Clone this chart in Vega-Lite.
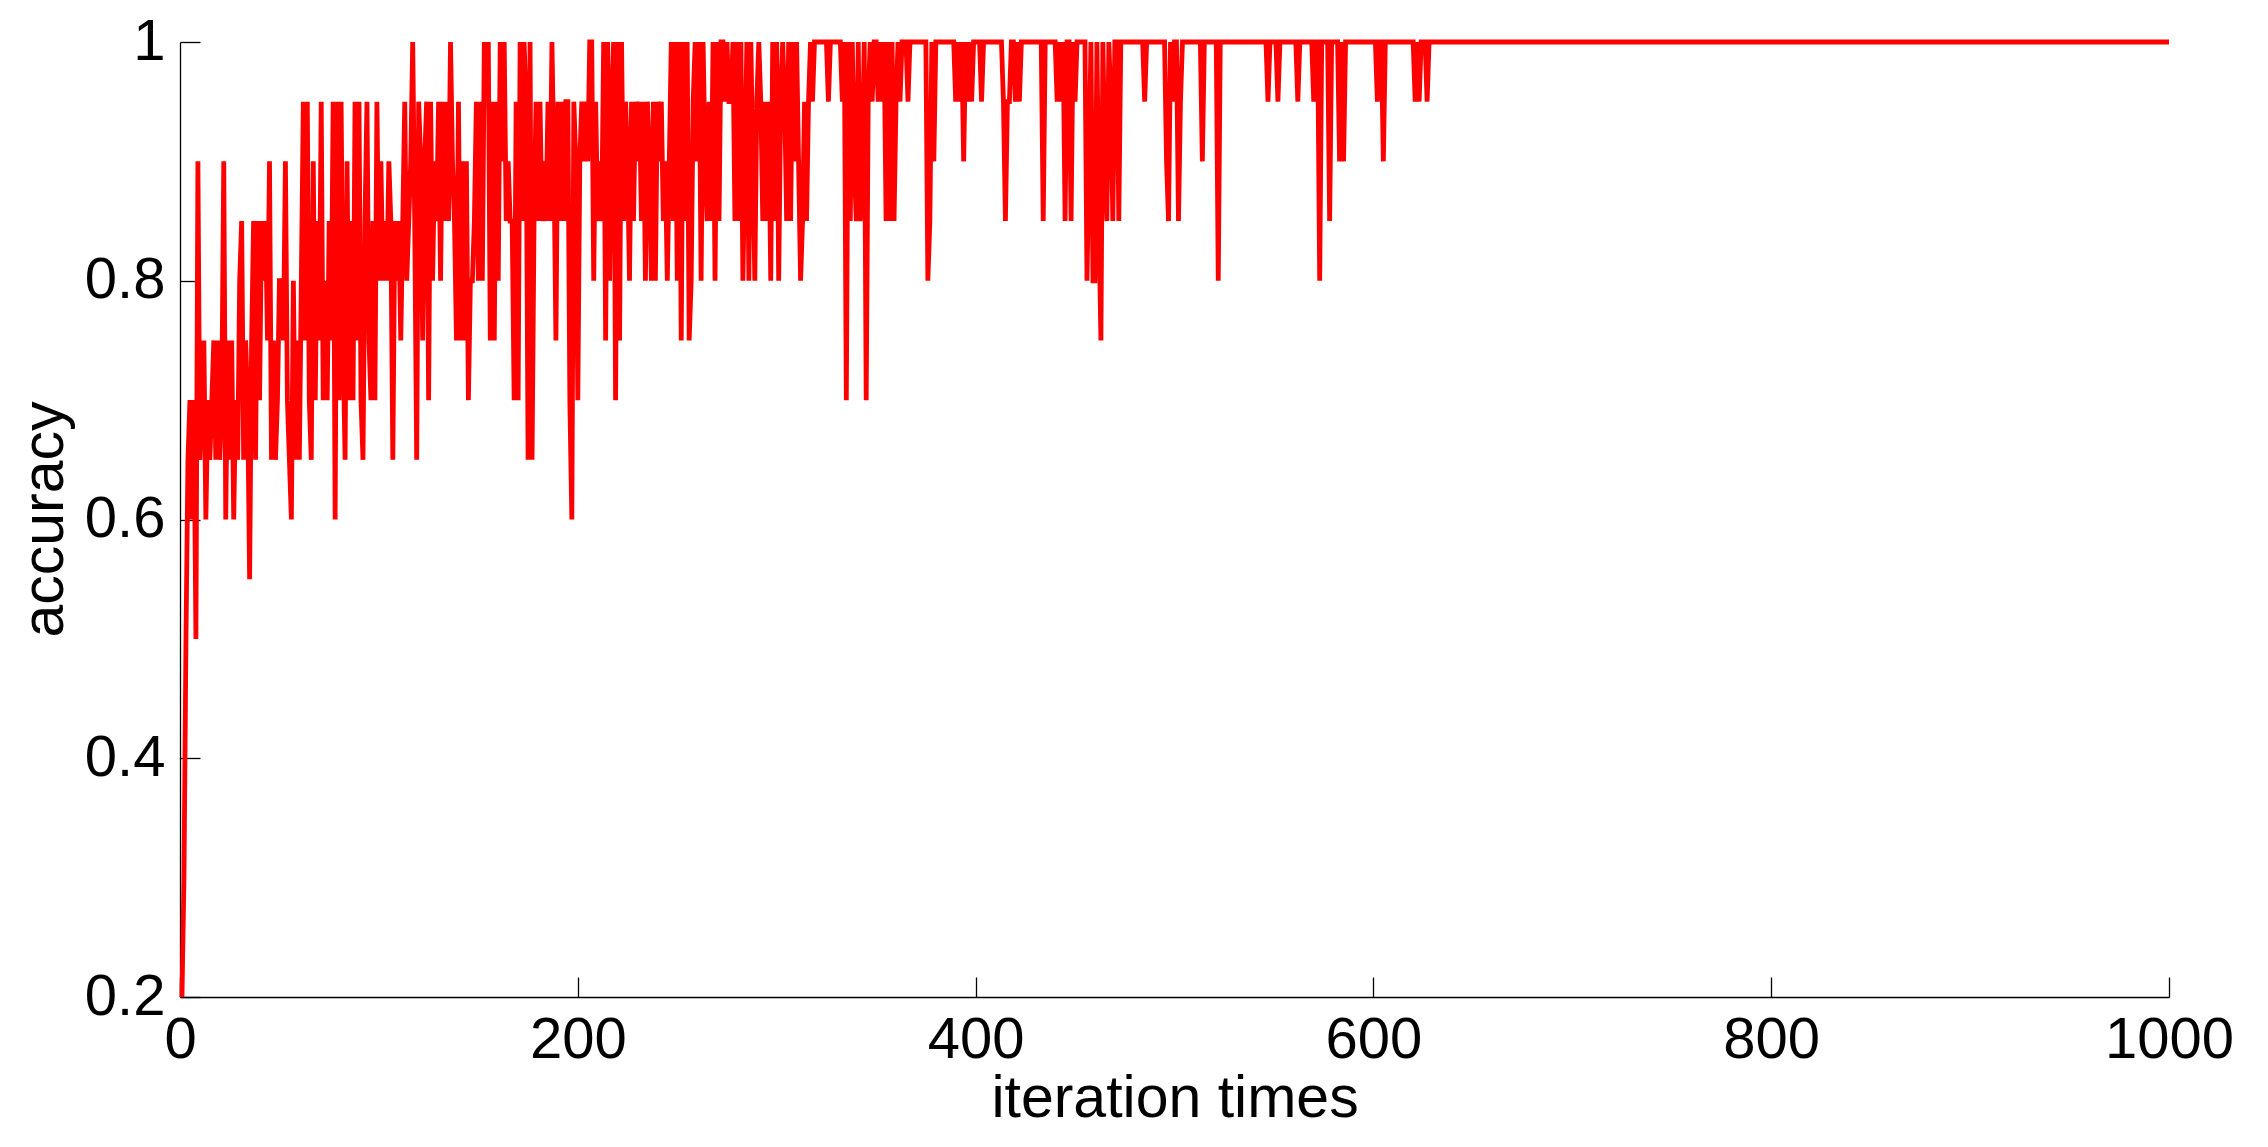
{
  "$schema": "https://vega.github.io/schema/vega-lite/v6.json",
  "width": 1989,
  "height": 955,
  "autosize": {"type": "none"},
  "padding": {"left": 180, "top": 42, "right": 99, "bottom": 150},
  "background": "white",
  "config": {"view": {"stroke": null}, "font": "Liberation Sans"},
  "data": {
    "values": [
      {"iteration": 1, "accuracy": 0.2}, {"iteration": 2, "accuracy": 0.3}, {"iteration": 3, "accuracy": 0.5}, {"iteration": 4, "accuracy": 0.65}, {"iteration": 5, "accuracy": 0.7},
      {"iteration": 6, "accuracy": 0.6}, {"iteration": 7, "accuracy": 0.7}, {"iteration": 8, "accuracy": 0.5}, {"iteration": 9, "accuracy": 0.9}, {"iteration": 10, "accuracy": 0.65},
      {"iteration": 11, "accuracy": 0.7}, {"iteration": 12, "accuracy": 0.75}, {"iteration": 13, "accuracy": 0.6}, {"iteration": 14, "accuracy": 0.7}, {"iteration": 15, "accuracy": 0.65},
      {"iteration": 16, "accuracy": 0.7}, {"iteration": 17, "accuracy": 0.75}, {"iteration": 18, "accuracy": 0.65}, {"iteration": 19, "accuracy": 0.75}, {"iteration": 20, "accuracy": 0.65},
      {"iteration": 21, "accuracy": 0.7}, {"iteration": 22, "accuracy": 0.9}, {"iteration": 23, "accuracy": 0.6}, {"iteration": 24, "accuracy": 0.75}, {"iteration": 25, "accuracy": 0.65},
      {"iteration": 26, "accuracy": 0.75}, {"iteration": 27, "accuracy": 0.6}, {"iteration": 28, "accuracy": 0.7}, {"iteration": 29, "accuracy": 0.65}, {"iteration": 30, "accuracy": 0.8},
      {"iteration": 31, "accuracy": 0.85}, {"iteration": 32, "accuracy": 0.65}, {"iteration": 33, "accuracy": 0.75}, {"iteration": 34, "accuracy": 0.7}, {"iteration": 35, "accuracy": 0.55},
      {"iteration": 36, "accuracy": 0.75}, {"iteration": 37, "accuracy": 0.85}, {"iteration": 38, "accuracy": 0.65}, {"iteration": 39, "accuracy": 0.85}, {"iteration": 40, "accuracy": 0.7},
      {"iteration": 41, "accuracy": 0.85}, {"iteration": 42, "accuracy": 0.8}, {"iteration": 43, "accuracy": 0.85}, {"iteration": 44, "accuracy": 0.75}, {"iteration": 45, "accuracy": 0.9},
      {"iteration": 46, "accuracy": 0.65}, {"iteration": 47, "accuracy": 0.75}, {"iteration": 48, "accuracy": 0.65}, {"iteration": 49, "accuracy": 0.7}, {"iteration": 50, "accuracy": 0.8},
      {"iteration": 51, "accuracy": 0.8}, {"iteration": 52, "accuracy": 0.75}, {"iteration": 53, "accuracy": 0.9}, {"iteration": 54, "accuracy": 0.7}, {"iteration": 55, "accuracy": 0.65},
      {"iteration": 56, "accuracy": 0.6}, {"iteration": 57, "accuracy": 0.8}, {"iteration": 58, "accuracy": 0.65}, {"iteration": 59, "accuracy": 0.75}, {"iteration": 60, "accuracy": 0.65},
      {"iteration": 61, "accuracy": 0.8}, {"iteration": 62, "accuracy": 0.95}, {"iteration": 63, "accuracy": 0.75}, {"iteration": 64, "accuracy": 0.95}, {"iteration": 65, "accuracy": 0.7},
      {"iteration": 66, "accuracy": 0.65}, {"iteration": 67, "accuracy": 0.9}, {"iteration": 68, "accuracy": 0.7}, {"iteration": 69, "accuracy": 0.85}, {"iteration": 70, "accuracy": 0.75},
      {"iteration": 71, "accuracy": 0.95}, {"iteration": 72, "accuracy": 0.7}, {"iteration": 73, "accuracy": 0.8}, {"iteration": 74, "accuracy": 0.7}, {"iteration": 75, "accuracy": 0.85},
      {"iteration": 76, "accuracy": 0.75}, {"iteration": 77, "accuracy": 0.95}, {"iteration": 78, "accuracy": 0.6}, {"iteration": 79, "accuracy": 0.95}, {"iteration": 80, "accuracy": 0.7},
      {"iteration": 81, "accuracy": 0.95}, {"iteration": 82, "accuracy": 0.75}, {"iteration": 83, "accuracy": 0.65}, {"iteration": 84, "accuracy": 0.9}, {"iteration": 85, "accuracy": 0.7},
      {"iteration": 86, "accuracy": 0.85}, {"iteration": 87, "accuracy": 0.7}, {"iteration": 88, "accuracy": 0.95}, {"iteration": 89, "accuracy": 0.75}, {"iteration": 90, "accuracy": 0.95},
      {"iteration": 91, "accuracy": 0.7}, {"iteration": 92, "accuracy": 0.65}, {"iteration": 93, "accuracy": 0.85}, {"iteration": 94, "accuracy": 0.95}, {"iteration": 95, "accuracy": 0.75},
      {"iteration": 96, "accuracy": 0.7}, {"iteration": 97, "accuracy": 0.85}, {"iteration": 98, "accuracy": 0.7}, {"iteration": 99, "accuracy": 0.95}, {"iteration": 100, "accuracy": 0.8},
      {"iteration": 101, "accuracy": 0.9}, {"iteration": 102, "accuracy": 0.8}, {"iteration": 103, "accuracy": 0.85}, {"iteration": 104, "accuracy": 0.8}, {"iteration": 105, "accuracy": 0.9},
      {"iteration": 106, "accuracy": 0.85}, {"iteration": 107, "accuracy": 0.65}, {"iteration": 108, "accuracy": 0.85}, {"iteration": 109, "accuracy": 0.8}, {"iteration": 110, "accuracy": 0.85},
      {"iteration": 111, "accuracy": 0.75}, {"iteration": 112, "accuracy": 0.85}, {"iteration": 113, "accuracy": 0.95}, {"iteration": 114, "accuracy": 0.8}, {"iteration": 115, "accuracy": 0.85},
      {"iteration": 116, "accuracy": 0.9}, {"iteration": 117, "accuracy": 1}, {"iteration": 118, "accuracy": 0.85}, {"iteration": 119, "accuracy": 0.65}, {"iteration": 120, "accuracy": 0.95},
      {"iteration": 121, "accuracy": 0.9}, {"iteration": 122, "accuracy": 0.75}, {"iteration": 123, "accuracy": 0.9}, {"iteration": 124, "accuracy": 0.95}, {"iteration": 125, "accuracy": 0.7},
      {"iteration": 126, "accuracy": 0.95}, {"iteration": 127, "accuracy": 0.8}, {"iteration": 128, "accuracy": 0.9}, {"iteration": 129, "accuracy": 0.85}, {"iteration": 130, "accuracy": 0.95},
      {"iteration": 131, "accuracy": 0.8}, {"iteration": 132, "accuracy": 0.95}, {"iteration": 133, "accuracy": 0.85}, {"iteration": 134, "accuracy": 0.95}, {"iteration": 135, "accuracy": 0.85},
      {"iteration": 136, "accuracy": 1}, {"iteration": 137, "accuracy": 0.9}, {"iteration": 138, "accuracy": 0.85}, {"iteration": 139, "accuracy": 0.75}, {"iteration": 140, "accuracy": 0.95},
      {"iteration": 141, "accuracy": 0.75}, {"iteration": 142, "accuracy": 0.9}, {"iteration": 143, "accuracy": 0.75}, {"iteration": 144, "accuracy": 0.9}, {"iteration": 145, "accuracy": 0.7},
      {"iteration": 146, "accuracy": 0.8}, {"iteration": 147, "accuracy": 0.8}, {"iteration": 148, "accuracy": 0.85}, {"iteration": 149, "accuracy": 0.95}, {"iteration": 150, "accuracy": 0.8},
      {"iteration": 151, "accuracy": 0.95}, {"iteration": 152, "accuracy": 0.8}, {"iteration": 153, "accuracy": 1}, {"iteration": 154, "accuracy": 0.95}, {"iteration": 155, "accuracy": 1},
      {"iteration": 156, "accuracy": 0.75}, {"iteration": 157, "accuracy": 0.95}, {"iteration": 158, "accuracy": 0.75}, {"iteration": 159, "accuracy": 0.95}, {"iteration": 160, "accuracy": 0.8},
      {"iteration": 161, "accuracy": 1}, {"iteration": 162, "accuracy": 0.9}, {"iteration": 163, "accuracy": 1}, {"iteration": 164, "accuracy": 0.85}, {"iteration": 165, "accuracy": 0.9},
      {"iteration": 166, "accuracy": 0.85}, {"iteration": 167, "accuracy": 0.85}, {"iteration": 168, "accuracy": 0.7}, {"iteration": 169, "accuracy": 0.95}, {"iteration": 170, "accuracy": 0.7},
      {"iteration": 171, "accuracy": 1}, {"iteration": 172, "accuracy": 0.85}, {"iteration": 173, "accuracy": 1}, {"iteration": 174, "accuracy": 0.95}, {"iteration": 175, "accuracy": 0.65},
      {"iteration": 176, "accuracy": 1}, {"iteration": 177, "accuracy": 0.65}, {"iteration": 178, "accuracy": 0.85}, {"iteration": 179, "accuracy": 0.95}, {"iteration": 180, "accuracy": 0.85},
      {"iteration": 181, "accuracy": 0.95}, {"iteration": 182, "accuracy": 0.85}, {"iteration": 183, "accuracy": 0.9}, {"iteration": 184, "accuracy": 0.85}, {"iteration": 185, "accuracy": 0.95},
      {"iteration": 186, "accuracy": 0.85}, {"iteration": 187, "accuracy": 1}, {"iteration": 188, "accuracy": 0.9}, {"iteration": 189, "accuracy": 0.75}, {"iteration": 190, "accuracy": 0.95},
      {"iteration": 191, "accuracy": 0.85}, {"iteration": 192, "accuracy": 0.95}, {"iteration": 193, "accuracy": 0.85}, {"iteration": 194, "accuracy": 0.95}, {"iteration": 195, "accuracy": 0.95},
      {"iteration": 196, "accuracy": 0.7}, {"iteration": 197, "accuracy": 0.6}, {"iteration": 198, "accuracy": 0.95}, {"iteration": 199, "accuracy": 0.9}, {"iteration": 200, "accuracy": 0.7},
      {"iteration": 201, "accuracy": 0.9}, {"iteration": 202, "accuracy": 0.95}, {"iteration": 203, "accuracy": 0.9}, {"iteration": 204, "accuracy": 0.95}, {"iteration": 205, "accuracy": 0.9},
      {"iteration": 206, "accuracy": 1}, {"iteration": 207, "accuracy": 1}, {"iteration": 208, "accuracy": 0.8}, {"iteration": 209, "accuracy": 0.95}, {"iteration": 210, "accuracy": 0.85},
      {"iteration": 211, "accuracy": 0.9}, {"iteration": 212, "accuracy": 0.85}, {"iteration": 213, "accuracy": 1}, {"iteration": 214, "accuracy": 0.75}, {"iteration": 215, "accuracy": 1},
      {"iteration": 216, "accuracy": 0.8}, {"iteration": 217, "accuracy": 0.95}, {"iteration": 218, "accuracy": 1}, {"iteration": 219, "accuracy": 0.7}, {"iteration": 220, "accuracy": 1},
      {"iteration": 221, "accuracy": 0.75}, {"iteration": 222, "accuracy": 1}, {"iteration": 223, "accuracy": 0.85}, {"iteration": 224, "accuracy": 0.95}, {"iteration": 225, "accuracy": 0.9},
      {"iteration": 226, "accuracy": 0.8}, {"iteration": 227, "accuracy": 0.95}, {"iteration": 228, "accuracy": 0.85}, {"iteration": 229, "accuracy": 0.95}, {"iteration": 230, "accuracy": 0.9},
      {"iteration": 231, "accuracy": 0.95}, {"iteration": 232, "accuracy": 0.85}, {"iteration": 233, "accuracy": 0.95}, {"iteration": 234, "accuracy": 0.8}, {"iteration": 235, "accuracy": 0.95},
      {"iteration": 236, "accuracy": 0.9}, {"iteration": 237, "accuracy": 0.8}, {"iteration": 238, "accuracy": 0.95}, {"iteration": 239, "accuracy": 0.8}, {"iteration": 240, "accuracy": 0.95},
      {"iteration": 241, "accuracy": 0.9}, {"iteration": 242, "accuracy": 0.95}, {"iteration": 243, "accuracy": 0.85}, {"iteration": 244, "accuracy": 0.9}, {"iteration": 245, "accuracy": 0.8},
      {"iteration": 246, "accuracy": 0.9}, {"iteration": 247, "accuracy": 1}, {"iteration": 248, "accuracy": 0.85}, {"iteration": 249, "accuracy": 1}, {"iteration": 250, "accuracy": 0.8},
      {"iteration": 251, "accuracy": 1}, {"iteration": 252, "accuracy": 0.75}, {"iteration": 253, "accuracy": 1}, {"iteration": 254, "accuracy": 0.85}, {"iteration": 255, "accuracy": 1},
      {"iteration": 256, "accuracy": 0.75}, {"iteration": 257, "accuracy": 0.8}, {"iteration": 258, "accuracy": 0.95}, {"iteration": 259, "accuracy": 1}, {"iteration": 260, "accuracy": 0.9},
      {"iteration": 261, "accuracy": 1}, {"iteration": 262, "accuracy": 0.8}, {"iteration": 263, "accuracy": 1}, {"iteration": 264, "accuracy": 0.9}, {"iteration": 265, "accuracy": 0.85},
      {"iteration": 266, "accuracy": 0.95}, {"iteration": 267, "accuracy": 0.85}, {"iteration": 268, "accuracy": 1}, {"iteration": 269, "accuracy": 0.8}, {"iteration": 270, "accuracy": 1},
      {"iteration": 271, "accuracy": 0.85}, {"iteration": 272, "accuracy": 1}, {"iteration": 273, "accuracy": 1}, {"iteration": 274, "accuracy": 0.95}, {"iteration": 275, "accuracy": 1},
      {"iteration": 276, "accuracy": 0.95}, {"iteration": 277, "accuracy": 0.95}, {"iteration": 278, "accuracy": 1}, {"iteration": 279, "accuracy": 0.85}, {"iteration": 280, "accuracy": 1},
      {"iteration": 281, "accuracy": 0.85}, {"iteration": 282, "accuracy": 1}, {"iteration": 283, "accuracy": 0.8}, {"iteration": 284, "accuracy": 0.9}, {"iteration": 285, "accuracy": 1},
      {"iteration": 286, "accuracy": 0.8}, {"iteration": 287, "accuracy": 1}, {"iteration": 288, "accuracy": 0.9}, {"iteration": 289, "accuracy": 0.8}, {"iteration": 290, "accuracy": 0.95},
      {"iteration": 291, "accuracy": 1}, {"iteration": 292, "accuracy": 0.95}, {"iteration": 293, "accuracy": 0.85}, {"iteration": 294, "accuracy": 0.95}, {"iteration": 295, "accuracy": 0.85},
      {"iteration": 296, "accuracy": 0.95}, {"iteration": 297, "accuracy": 0.8}, {"iteration": 298, "accuracy": 1}, {"iteration": 299, "accuracy": 0.85}, {"iteration": 300, "accuracy": 1},
      {"iteration": 301, "accuracy": 0.8}, {"iteration": 302, "accuracy": 0.95}, {"iteration": 303, "accuracy": 1}, {"iteration": 304, "accuracy": 0.95}, {"iteration": 305, "accuracy": 0.85},
      {"iteration": 306, "accuracy": 1}, {"iteration": 307, "accuracy": 0.85}, {"iteration": 308, "accuracy": 1}, {"iteration": 309, "accuracy": 0.9}, {"iteration": 310, "accuracy": 1},
      {"iteration": 311, "accuracy": 0.9}, {"iteration": 312, "accuracy": 0.8}, {"iteration": 313, "accuracy": 0.85}, {"iteration": 314, "accuracy": 0.95}, {"iteration": 315, "accuracy": 0.85},
      {"iteration": 316, "accuracy": 0.95}, {"iteration": 317, "accuracy": 1}, {"iteration": 318, "accuracy": 0.95}, {"iteration": 319, "accuracy": 1}, {"iteration": 325, "accuracy": 1},
      {"iteration": 326, "accuracy": 0.95}, {"iteration": 327, "accuracy": 1}, {"iteration": 332, "accuracy": 1}, {"iteration": 333, "accuracy": 0.95}, {"iteration": 334, "accuracy": 1},
      {"iteration": 335, "accuracy": 0.7}, {"iteration": 336, "accuracy": 1}, {"iteration": 337, "accuracy": 0.85}, {"iteration": 338, "accuracy": 1}, {"iteration": 339, "accuracy": 0.9},
      {"iteration": 340, "accuracy": 0.85}, {"iteration": 341, "accuracy": 1}, {"iteration": 342, "accuracy": 0.85}, {"iteration": 343, "accuracy": 0.9}, {"iteration": 344, "accuracy": 1},
      {"iteration": 345, "accuracy": 0.7}, {"iteration": 346, "accuracy": 0.95}, {"iteration": 347, "accuracy": 1}, {"iteration": 348, "accuracy": 0.95}, {"iteration": 349, "accuracy": 1},
      {"iteration": 350, "accuracy": 1}, {"iteration": 351, "accuracy": 0.95}, {"iteration": 352, "accuracy": 1}, {"iteration": 353, "accuracy": 0.95}, {"iteration": 354, "accuracy": 1},
      {"iteration": 355, "accuracy": 0.85}, {"iteration": 356, "accuracy": 1}, {"iteration": 357, "accuracy": 0.85}, {"iteration": 358, "accuracy": 1}, {"iteration": 359, "accuracy": 0.85},
      {"iteration": 360, "accuracy": 0.95}, {"iteration": 361, "accuracy": 1}, {"iteration": 362, "accuracy": 0.95}, {"iteration": 363, "accuracy": 1}, {"iteration": 365, "accuracy": 1},
      {"iteration": 366, "accuracy": 0.95}, {"iteration": 367, "accuracy": 1}, {"iteration": 375, "accuracy": 1}, {"iteration": 376, "accuracy": 0.8}, {"iteration": 377, "accuracy": 0.85},
      {"iteration": 378, "accuracy": 1}, {"iteration": 379, "accuracy": 0.9}, {"iteration": 380, "accuracy": 1}, {"iteration": 389, "accuracy": 1}, {"iteration": 390, "accuracy": 0.95},
      {"iteration": 391, "accuracy": 1}, {"iteration": 392, "accuracy": 0.95}, {"iteration": 393, "accuracy": 1}, {"iteration": 394, "accuracy": 0.9}, {"iteration": 395, "accuracy": 1},
      {"iteration": 396, "accuracy": 0.95}, {"iteration": 397, "accuracy": 1}, {"iteration": 398, "accuracy": 0.95}, {"iteration": 399, "accuracy": 1}, {"iteration": 402, "accuracy": 1},
      {"iteration": 403, "accuracy": 0.95}, {"iteration": 404, "accuracy": 1}, {"iteration": 413, "accuracy": 1}, {"iteration": 414, "accuracy": 0.95}, {"iteration": 415, "accuracy": 0.85},
      {"iteration": 416, "accuracy": 0.95}, {"iteration": 417, "accuracy": 0.95}, {"iteration": 418, "accuracy": 1}, {"iteration": 419, "accuracy": 1}, {"iteration": 420, "accuracy": 0.95},
      {"iteration": 421, "accuracy": 1}, {"iteration": 422, "accuracy": 0.95}, {"iteration": 423, "accuracy": 1}, {"iteration": 433, "accuracy": 1}, {"iteration": 434, "accuracy": 0.85},
      {"iteration": 435, "accuracy": 1}, {"iteration": 440, "accuracy": 1}, {"iteration": 441, "accuracy": 0.95}, {"iteration": 442, "accuracy": 1}, {"iteration": 443, "accuracy": 0.95},
      {"iteration": 444, "accuracy": 1}, {"iteration": 445, "accuracy": 0.85}, {"iteration": 446, "accuracy": 1}, {"iteration": 447, "accuracy": 1}, {"iteration": 448, "accuracy": 0.85},
      {"iteration": 449, "accuracy": 1}, {"iteration": 450, "accuracy": 0.95}, {"iteration": 451, "accuracy": 1}, {"iteration": 455, "accuracy": 1}, {"iteration": 456, "accuracy": 0.8},
      {"iteration": 457, "accuracy": 0.9}, {"iteration": 458, "accuracy": 1}, {"iteration": 459, "accuracy": 0.8}, {"iteration": 460, "accuracy": 0.8}, {"iteration": 461, "accuracy": 1},
      {"iteration": 462, "accuracy": 0.85}, {"iteration": 463, "accuracy": 0.75}, {"iteration": 464, "accuracy": 1}, {"iteration": 465, "accuracy": 0.9}, {"iteration": 466, "accuracy": 0.85},
      {"iteration": 467, "accuracy": 1}, {"iteration": 468, "accuracy": 0.95}, {"iteration": 469, "accuracy": 0.85}, {"iteration": 470, "accuracy": 1}, {"iteration": 471, "accuracy": 1},
      {"iteration": 472, "accuracy": 0.85}, {"iteration": 473, "accuracy": 1}, {"iteration": 484, "accuracy": 1}, {"iteration": 485, "accuracy": 0.95}, {"iteration": 486, "accuracy": 1},
      {"iteration": 495, "accuracy": 1}, {"iteration": 496, "accuracy": 0.9}, {"iteration": 497, "accuracy": 0.85}, {"iteration": 498, "accuracy": 1}, {"iteration": 499, "accuracy": 0.95},
      {"iteration": 500, "accuracy": 1}, {"iteration": 501, "accuracy": 1}, {"iteration": 502, "accuracy": 0.85}, {"iteration": 503, "accuracy": 0.95}, {"iteration": 504, "accuracy": 1},
      {"iteration": 513, "accuracy": 1}, {"iteration": 514, "accuracy": 0.9}, {"iteration": 515, "accuracy": 1}, {"iteration": 521, "accuracy": 1}, {"iteration": 522, "accuracy": 0.8},
      {"iteration": 523, "accuracy": 1}, {"iteration": 546, "accuracy": 1}, {"iteration": 547, "accuracy": 0.95}, {"iteration": 548, "accuracy": 1}, {"iteration": 551, "accuracy": 1},
      {"iteration": 552, "accuracy": 0.95}, {"iteration": 553, "accuracy": 1}, {"iteration": 561, "accuracy": 1}, {"iteration": 562, "accuracy": 0.95}, {"iteration": 563, "accuracy": 1},
      {"iteration": 569, "accuracy": 1}, {"iteration": 570, "accuracy": 0.95}, {"iteration": 571, "accuracy": 1}, {"iteration": 572, "accuracy": 1}, {"iteration": 573, "accuracy": 0.8},
      {"iteration": 574, "accuracy": 1}, {"iteration": 577, "accuracy": 1}, {"iteration": 578, "accuracy": 0.85}, {"iteration": 579, "accuracy": 1}, {"iteration": 582, "accuracy": 1},
      {"iteration": 583, "accuracy": 0.9}, {"iteration": 584, "accuracy": 1}, {"iteration": 585, "accuracy": 0.9}, {"iteration": 586, "accuracy": 1}, {"iteration": 601, "accuracy": 1},
      {"iteration": 602, "accuracy": 0.95}, {"iteration": 603, "accuracy": 1}, {"iteration": 604, "accuracy": 1}, {"iteration": 605, "accuracy": 0.9}, {"iteration": 606, "accuracy": 1},
      {"iteration": 620, "accuracy": 1}, {"iteration": 621, "accuracy": 0.95}, {"iteration": 622, "accuracy": 1}, {"iteration": 623, "accuracy": 0.95}, {"iteration": 624, "accuracy": 1},
      {"iteration": 626, "accuracy": 1}, {"iteration": 627, "accuracy": 0.95}, {"iteration": 628, "accuracy": 1}, {"iteration": 1000, "accuracy": 1}
    ]
  },
  "mark": {"type": "line", "color": "#ff0000", "strokeWidth": 4.8, "clip": false},
  "encoding": {
    "x": {
      "field": "iteration",
      "type": "quantitative",
      "scale": {"domain": [0, 1000], "nice": false, "zero": false},
      "axis": {
        "values": [0, 200, 400, 600, 800, 1000],
        "format": "d",
        "title": "iteration times",
        "grid": false,
        "domainColor": "black",
        "domainWidth": 1.3,
        "tickColor": "black",
        "tickWidth": 1.3,
        "tickSize": -20,
        "labelPadding": 34,
        "labelFontSize": 58,
        "labelColor": "black",
        "labelFont": "Liberation Sans",
        "labelFlush": false,
        "labelOverlap": false,
        "titleFontSize": 59,
        "titleFontWeight": "normal",
        "titleColor": "black",
        "titleFont": "Liberation Sans",
        "titleBaseline": "alphabetic",
        "titleY": 119
      }
    },
    "y": {
      "field": "accuracy",
      "type": "quantitative",
      "scale": {"domain": [0.2, 1], "nice": false, "zero": false},
      "axis": {
        "values": [0.2, 0.4, 0.6, 0.8, 1],
        "format": "~g",
        "title": "accuracy",
        "grid": false,
        "domainColor": "black",
        "domainWidth": 1.3,
        "tickColor": "black",
        "tickWidth": 1.3,
        "tickSize": -20,
        "labelPadding": 35,
        "labelFontSize": 58,
        "labelColor": "black",
        "labelFont": "Liberation Sans",
        "labelFlush": false,
        "labelOverlap": false,
        "titleFontSize": 59,
        "titleFontWeight": "normal",
        "titleColor": "black",
        "titleFont": "Liberation Sans",
        "titleAngle": -90,
        "titleAlign": "center",
        "titleBaseline": "alphabetic",
        "titleX": -118,
        "titleY": 477
      }
    }
  }
}
